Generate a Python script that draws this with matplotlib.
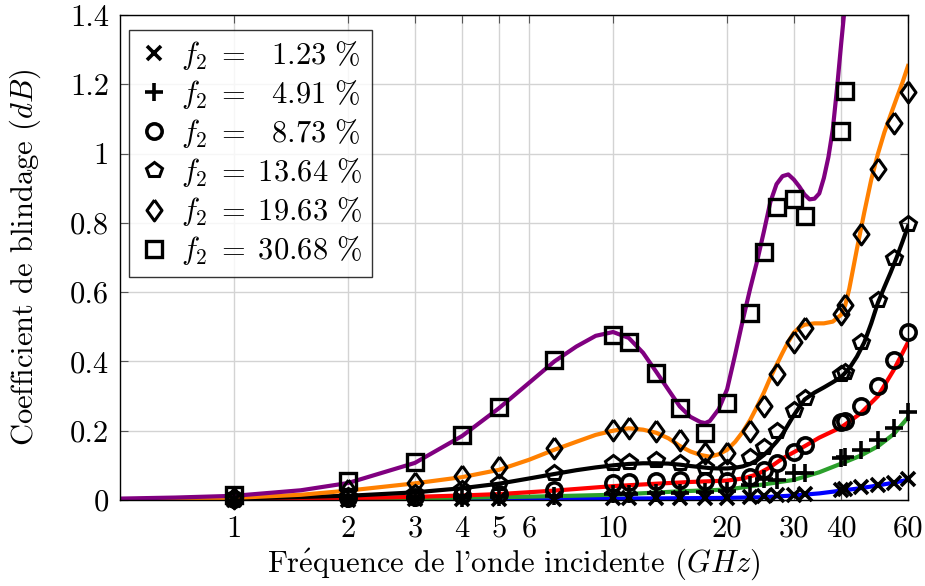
import matplotlib
matplotlib.use("Agg")
import matplotlib.pyplot as plt

plt.rcParams['font.family'] = ['cmr10', 'DejaVu Serif']
plt.rcParams['mathtext.fontset'] = 'cm'
plt.rcParams['axes.formatter.use_mathtext'] = True

# ---------------- data ----------------
marker_freq = [1, 2, 3, 4, 5, 7, 10, 11, 13, 15, 17.5, 20, 23, 25, 27, 30, 32, 40, 41, 45, 50, 55, 60]
m_123 = [0.001, 0.001, 0.002, 0.002, 0.003, 0.003, 0.005, 0.005, 0.005, 0.006, 0.006, 0.007,
         0.010, 0.012, 0.013, 0.014, 0.016, 0.030, 0.031, 0.038, 0.043, 0.050, 0.062]
m_491 = [0.001, 0.003, 0.005, 0.007, 0.008, 0.011, 0.017, 0.018, 0.020, 0.021, 0.022, 0.025,
         0.042, 0.062, 0.058, 0.078, 0.078, 0.122, 0.125, 0.145, 0.174, 0.208, 0.255]
m_873 = [0.002, 0.005, 0.009, 0.013, 0.017, 0.029, 0.049, 0.052, 0.055, 0.058, 0.055, 0.055,
         0.067, 0.087, 0.107, 0.139, 0.159, 0.226, 0.229, 0.272, 0.330, 0.405, 0.486]
m_1364 = [0.004, 0.012, 0.020, 0.033, 0.048, 0.078, 0.107, 0.110, 0.116, 0.107, 0.096, 0.092,
          0.124, 0.153, 0.200, 0.260, 0.295, 0.364, 0.370, 0.457, 0.576, 0.700, 0.796]
m_1963 = [0.007, 0.030, 0.049, 0.068, 0.095, 0.150, 0.203, 0.208, 0.200, 0.173, 0.136, 0.136,
          0.200, 0.270, 0.364, 0.457, 0.497, 0.538, 0.562, 0.767, 0.955, 1.088, 1.178]
m_3068_freq = [1, 2, 3, 4, 5, 7, 10, 11, 13, 15, 17.5, 20, 23, 25, 27, 30, 32, 40, 41]
m_3068 = [0.014, 0.055, 0.110, 0.188, 0.269, 0.405, 0.477, 0.457, 0.368, 0.266, 0.194, 0.280,
          0.541, 0.715, 0.845, 0.868, 0.819, 1.065, 1.180]

# model curves
blue_f = [0.5, 1, 2, 5, 10, 15, 20, 25, 30, 35, 40, 45, 50, 55, 60]
blue_v = [0.0005, 0.001, 0.002, 0.003, 0.004, 0.005, 0.006, 0.008, 0.013, 0.019, 0.027, 0.034, 0.042, 0.050, 0.058]

green_f = [0.5, 1, 2, 3, 5, 7, 10, 15, 20, 25, 30, 35, 40, 45, 50, 55, 60]
green_v = [0.0005, 0.001, 0.003, 0.005, 0.008, 0.011, 0.015, 0.025, 0.030, 0.045, 0.058, 0.080,
           0.105, 0.128, 0.155, 0.190, 0.238]

red_f = [0.5, 1, 2, 3, 4, 5, 7, 10, 13, 16, 20, 22, 24, 26, 28, 30, 32, 35, 40, 45, 50, 55, 60]
red_v = [0.001, 0.002, 0.005, 0.009, 0.013, 0.017, 0.027, 0.040, 0.047, 0.052, 0.056, 0.062,
         0.074, 0.095, 0.120, 0.138, 0.155, 0.180, 0.210, 0.250, 0.300, 0.375, 0.455]

black_f = [0.5, 1, 2, 3, 4, 5, 6, 7, 8, 9, 10, 11, 12, 13, 14, 15, 16, 17, 18, 19, 20, 21, 22,
           23, 24, 25, 26, 27, 28, 29, 30, 32, 34, 36, 38, 40, 42, 44, 46, 48, 50, 52, 54, 56, 58, 60]
black_v = [0.001, 0.004, 0.012, 0.022, 0.034, 0.047, 0.062, 0.075, 0.086, 0.094, 0.100, 0.104,
           0.106, 0.106, 0.105, 0.102, 0.098, 0.095, 0.092, 0.091, 0.091, 0.093, 0.097, 0.104,
           0.115, 0.130, 0.148, 0.168, 0.190, 0.218, 0.245, 0.290, 0.310, 0.325, 0.340, 0.355,
           0.380, 0.414, 0.455, 0.510, 0.570, 0.615, 0.657, 0.700, 0.745, 0.790]

orange_f = [0.5, 0.7, 1, 1.5, 2, 3, 4, 5, 6, 7, 8, 9, 10, 11, 12, 13, 14, 15, 16, 17, 18, 19, 20,
            21, 22, 23, 24, 25, 26, 27, 28, 29, 30, 31, 32, 34, 36, 38, 40, 41, 42, 43, 44, 46, 48,
            50, 52, 54, 56, 58, 60]
orange_v = [0.002, 0.004, 0.006, 0.015, 0.027, 0.048, 0.066, 0.087, 0.116, 0.145, 0.168, 0.188,
            0.200, 0.207, 0.203, 0.194, 0.178, 0.156, 0.140, 0.130, 0.125, 0.132, 0.145, 0.168,
            0.197, 0.231, 0.270, 0.310, 0.353, 0.390, 0.425, 0.457, 0.483, 0.498, 0.506, 0.510,
            0.510, 0.515, 0.535, 0.563, 0.610, 0.668, 0.725, 0.830, 0.925, 1.000, 1.062, 1.112,
            1.160, 1.205, 1.253]

purple_f = [0.5, 0.7, 1, 1.5, 2, 3, 4, 5, 6, 7, 8, 9, 10, 11, 12, 13, 14, 15, 16, 17, 17.5, 18,
            19, 20, 21, 22, 23, 24, 25, 26, 27, 28, 29, 30, 31, 32, 33, 34, 35, 36, 37, 38, 39,
            40, 41, 42]
purple_v = [0.004, 0.007, 0.012, 0.028, 0.049, 0.107, 0.185, 0.265, 0.338, 0.400, 0.443, 0.474,
            0.485, 0.468, 0.425, 0.370, 0.318, 0.270, 0.240, 0.225, 0.222, 0.228, 0.262, 0.320,
            0.420, 0.520, 0.610, 0.690, 0.775, 0.860, 0.912, 0.935, 0.940, 0.925, 0.905, 0.882,
            0.868, 0.870, 0.885, 0.930, 0.990, 1.070, 1.190, 1.320, 1.440, 1.580]

x_ticks = [1, 2, 3, 4, 5, 6, 10, 20, 30, 40, 60]
y_ticks = [0, 0.2, 0.4, 0.6, 0.8, 1.0, 1.2, 1.4]
y_ticklabels = ['0', '0.2', '0.4', '0.6', '0.8', '1', '1.2', '1.4']

labels = [r"$f_2\;=\;\enspace 1.23\ \%$", r"$f_2\;=\;\enspace 4.91\ \%$", r"$f_2\;=\;\enspace 8.73\ \%$",
          r"$f_2\;=\;13.64\ \%$", r"$f_2\;=\;19.63\ \%$", r"$f_2\;=\;30.68\ \%$"]

FS = 22

# ---------------- figure ----------------
fig = plt.figure(figsize=(9.25, 5.86), dpi=100)
ax = fig.add_axes([0.1297, 0.1468, 0.8519, 0.8274])

lw = 3.0
ax.plot(blue_f, blue_v, color='#0000ff', lw=lw, zorder=2)
ax.plot(green_f, green_v, color='#2ca02c', lw=lw, zorder=2)
ax.plot(red_f, red_v, color='#ff0000', lw=lw, zorder=2)
ax.plot(black_f, black_v, color='black', lw=lw, zorder=2)
ax.plot(orange_f, orange_v, color='#ff8000', lw=lw, zorder=2)
ax.plot(purple_f, purple_v, color='#800080', lw=lw, zorder=2)

diamond = [(0, 1), (0.72, 0), (0, -1), (-0.72, 0), (0, 1)]

mk = dict(linestyle='none', color='black', mfc='none', mec='black', clip_on=False, zorder=3)
ax.plot(marker_freq, m_123, marker='x', ms=10, mew=2.6, label=labels[0], **mk)
ax.plot(marker_freq, m_491, marker='+', ms=13, mew=2.6, label=labels[1], **mk)
ax.plot(marker_freq, m_873, marker='o', ms=11, mew=2.6, label=labels[2], **mk)
ax.plot(marker_freq, m_1364, marker='p', ms=11.5, mew=2.2, label=labels[3], **mk)
ax.plot(marker_freq, m_1963, marker=diamond, ms=15, mew=2.2, label=labels[4], **mk)
ax.plot(m_3068_freq, m_3068, marker='s', ms=11.5, mew=2.4, label=labels[5], **mk)

ax.set_xscale('log')
ax.set_xlim(0.5, 60)
ax.set_ylim(0, 1.4)
ax.set_xticks(x_ticks)
ax.set_xticklabels([str(t) for t in x_ticks])
ax.xaxis.set_minor_locator(matplotlib.ticker.NullLocator())
ax.set_yticks(y_ticks)
ax.set_yticklabels(y_ticklabels)

ax.grid(True, color='#d3d3d3', lw=1.0, zorder=0)
ax.set_axisbelow(True)
ax.tick_params(direction='in', top=True, right=True, length=6, width=0.8,
               color='#555555', labelsize=FS)
ax.tick_params(axis='x', pad=11)
ax.tick_params(axis='y', pad=8)
for s in ax.spines.values():
    s.set_color('black')
    s.set_linewidth(1.0)

ax.set_xlabel(r"Fr$\mathrm{\acute{e}}$quence de l'onde incidente ($GHz$)", fontsize=FS, labelpad=3)
ax.set_ylabel("Coefficient de blindage ($dB$)", fontsize=FS, labelpad=19)

leg = ax.legend(loc='upper left', bbox_to_anchor=(0.012, 0.970), borderaxespad=0,
                fontsize=FS, frameon=True, fancybox=False, edgecolor='black',
                handlelength=1.0, handletextpad=0.4, labelspacing=0.2,
                borderpad=0.3, numpoints=1)
leg.get_frame().set_linewidth(1.0)

fig.savefig('out.png', dpi=100)
